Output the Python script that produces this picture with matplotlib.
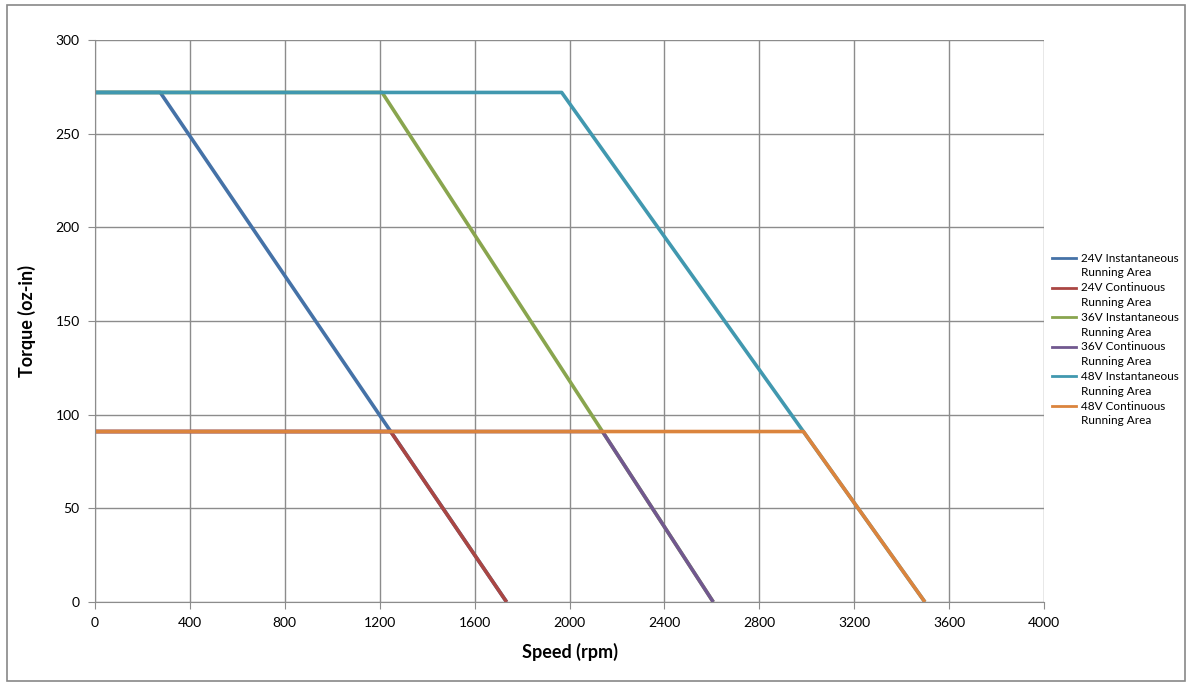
import matplotlib.pyplot as plt
from matplotlib.patches import Rectangle
from matplotlib.lines import Line2D

plt.rcParams['font.family'] = ['Lato', 'DejaVu Sans']

# speed (rpm) / torque (oz-in) corner points
inst_24_x = [0, 275, 1735]
inst_24_y = [272, 272, 0]
cont_24_x = [0, 1246, 1735]
cont_24_y = [91, 91, 0]
inst_36_x = [0, 1210, 2606]
inst_36_y = [272, 272, 0]
cont_36_x = [0, 2139, 2606]
cont_36_y = [91, 91, 0]
inst_48_x = [0, 1967, 3498]
inst_48_y = [272, 272, 0]
cont_48_x = [0, 2986, 3498]
cont_48_y = [91, 91, 0]

labels = ['24V Instantaneous\nRunning Area', '24V Continuous\nRunning Area',
          '36V Instantaneous\nRunning Area', '36V Continuous\nRunning Area',
          '48V Instantaneous\nRunning Area', '48V Continuous\nRunning Area']
colors = ['#4572A7', '#AA4643', '#89A54E', '#71588F', '#4198AF', '#DB843D']

x_ticks = list(range(0, 4001, 400))
y_ticks = list(range(0, 301, 50))

W, H = 1188, 682
fig = plt.figure(figsize=(W / 100, H / 100), dpi=100)
fig.patches.append(Rectangle((7 / W, 1 - 681 / H), 1178 / W, 676 / H,
                             transform=fig.transFigure, fill=False,
                             edgecolor='#888888', linewidth=1.2))
ax = fig.add_axes([95 / W, 1 - 602 / H, 949 / W, 562 / H])

series = [(inst_24_x, inst_24_y), (cont_24_x, cont_24_y),
          (inst_36_x, inst_36_y), (cont_36_x, cont_36_y),
          (inst_48_x, inst_48_y), (cont_48_x, cont_48_y)]
for (xs, ys), lab, col in zip(series, labels, colors):
    ax.plot(xs, ys, color=col, linewidth=2.6, label=lab, solid_capstyle='butt')

ax.set_xlim(0, 4000)
ax.set_ylim(0, 300)
ax.set_xticks(x_ticks)
ax.set_yticks(y_ticks)
ax.grid(True, color='#8c8c8c', linewidth=1)
ax.set_axisbelow(True)
for s in ['top', 'right']:
    ax.spines[s].set_visible(False)
for s in ['left', 'bottom']:
    ax.spines[s].set_color('#8c8c8c')
ax.tick_params(colors='#8c8c8c', labelcolor='black', labelsize=10, length=5, pad=6)

ax.set_xlabel('Speed (rpm)', fontsize=13, fontweight='bold', labelpad=10)
ax.set_ylabel('Torque (oz-in)', fontsize=13, fontweight='bold', labelpad=14)

# Excel-style legend: handle sits on the first line of each two-line label
handles, leg_labels = ax.get_legend_handles_labels()
for i, (h, lab) in enumerate(zip(handles, leg_labels)):
    y0 = 258 + i * 29.6
    fig.add_artist(Line2D([1052 / W, 1076 / W], [1 - y0 / H, 1 - y0 / H],
                          transform=fig.transFigure, color=h.get_color(),
                          linewidth=2))
    for j, part in enumerate(lab.split('\n')):
        fig.text(1081 / W, 1 - (y0 + j * 14.8) / H, part, fontsize=8.5,
                 va='center', ha='left')

fig.savefig('out.png', dpi=100)
